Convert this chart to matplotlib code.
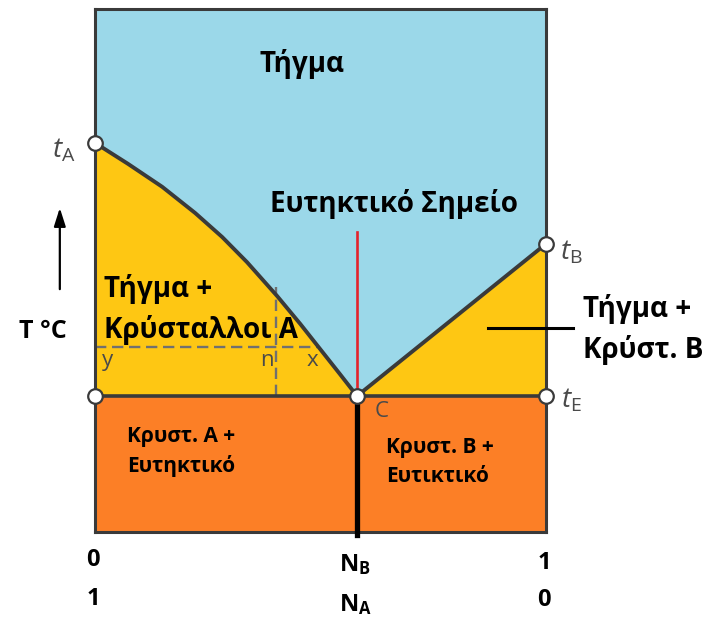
import matplotlib
matplotlib.use("Agg")
import matplotlib.pyplot as plt
from matplotlib.patches import Rectangle

plt.rcParams['font.family'] = ['Open Sans', 'DejaVu Sans']
plt.rcParams['mathtext.fontset'] = 'custom'
plt.rcParams['mathtext.rm'] = 'Open Sans'
plt.rcParams['mathtext.it'] = 'Open Sans:italic'
plt.rcParams['mathtext.bf'] = 'Open Sans:bold'

# ---- data (composition N_B 0..1, temperature in arbitrary units 0..100) ----
t_A = 74.4
t_B = 55.1
t_E = 26.0
eutectic_x = 0.581
liq_left_x = [0.0, 0.073, 0.149, 0.222, 0.282, 0.337, 0.404, 0.455, 0.499, 0.543, 0.581]
liq_left_T = [74.4, 70.4, 66.0, 61.0, 56.4, 51.6, 45.1, 39.8, 35.0, 30.2, 26.0]
liq_right_x = [0.581, 1.0]
liq_right_T = [26.0, 55.1]
lever_T = 35.4
lever_x_end = 0.492
lever_n_x = 0.401
lever_n_top = 46.8
red_top = 57.4
xtick_pos = [0.0, eutectic_x, 1.0]
xtick_top = ["0", r"$\mathbf{N_B}$", "1"]
xtick_bottom = ["1", r"$\mathbf{N_A}$", "0"]

BLUE = '#9BD8E9'
YELLOW = '#FEC713'
ORANGE = '#FC7F26'
EDGE = '#3a3a3a'

W, H = 706, 624
fig = plt.figure(figsize=(W / 100, H / 100), dpi=100)
x0, x1, ytop, ybot = 95, 546, 9, 532
ax = fig.add_axes([x0 / W, (H - ybot) / H, (x1 - x0) / W, (ybot - ytop) / H])
ax.set_xlim(0, 1)
ax.set_ylim(0, 100)
ax.set_facecolor(BLUE)
for s in ax.spines.values():
    s.set_color(EDGE)
    s.set_linewidth(2.2)
ax.set_xticks([])
ax.set_yticks([])

# regions
ax.add_patch(Rectangle((0, 0), 1, t_E, facecolor=ORANGE, edgecolor='none', zorder=1))
ax.fill_between(liq_left_x, t_E, liq_left_T, color=YELLOW, lw=0, zorder=1)
ax.fill_between(liq_right_x, t_E, liq_right_T, color=YELLOW, lw=0, zorder=1)

# lines
ax.plot(liq_left_x, liq_left_T, color=EDGE, lw=2.8, zorder=3,
        solid_capstyle='round', solid_joinstyle='round')
ax.plot(liq_right_x, liq_right_T, color=EDGE, lw=2.8, zorder=3)
ax.plot([0, 1], [t_E, t_E], color=EDGE, lw=2.6, zorder=3)
dash = (0, (4.8, 2.4))
ax.plot([0, lever_x_end], [lever_T, lever_T], color='#707070', lw=1.7, ls=dash, zorder=2)
ax.plot([lever_n_x, lever_n_x], [t_E, lever_n_top], color='#707070', lw=1.7, ls=dash, zorder=2)
ax.plot([eutectic_x, eutectic_x], [t_E, red_top], color='#e3232b', lw=1.9, zorder=4)
ax.plot([eutectic_x, eutectic_x], [t_E, -0.6], color='black', lw=3.8, zorder=4, clip_on=False)
ax.plot([0.871, 1.06], [39.0, 39.0], color='black', lw=2.2, zorder=4, clip_on=False)

# points
ax.plot([0, 1, 0, 1, eutectic_x], [t_A, t_B, t_E, t_E, t_E], 'o', ms=10.5,
        mfc='white', mec=EDGE, mew=1.6, zorder=6, clip_on=False)

# arrow for T
ax.annotate('', xy=(-0.078, 62.5), xytext=(-0.078, 45.9),
            arrowprops=dict(arrowstyle='-|>,head_width=0.35,head_length=1.1', color='black', lw=1.6),
            annotation_clip=False)

def T(xp, yp, s, **kw):
    fig.text(xp / W, 1 - yp / H, s, **kw)

bold = dict(fontweight='bold', color='black')
big = 20
T(302, 72, 'Τήγμα', ha='center', va='baseline', fontsize=big, **bold)
T(394, 212, 'Ευτηκτικό Σημείο', ha='center', va='baseline', fontsize=big, **bold)
T(104, 297, 'Τήγμα +', ha='left', va='baseline', fontsize=big, **bold)
T(104, 338, 'Κρύσταλλοι Α', ha='left', va='baseline', fontsize=big, **bold)
T(583, 317, 'Τήγμα +', ha='left', va='baseline', fontsize=big, **bold)
T(583, 358, 'Κρύστ. Β', ha='left', va='baseline', fontsize=big, **bold)
T(19, 338, 'T °C', ha='left', va='baseline', fontsize=18, **bold)
small = 15
T(127, 442, 'Κρυστ. Α +', ha='left', va='baseline', fontsize=small, **bold)
T(127, 472, 'Ευτηκτικό', ha='left', va='baseline', fontsize=small, **bold)
T(386, 453, 'Κρυστ. Β +', ha='left', va='baseline', fontsize=small, **bold)
T(386, 482, 'Ευτικτικό', ha='left', va='baseline', fontsize=small, **bold)

gray = '#4a4a4a'
T(108, 366, 'y', ha='center', va='baseline', fontsize=16, color=gray)
T(267, 366, 'n', ha='center', va='baseline', fontsize=16, color=gray)
T(312, 366, 'x', ha='center', va='baseline', fontsize=16, color=gray)
T(382, 417, 'C', ha='center', va='baseline', fontsize=16, color=gray)

T(64, 150, r'$t_{\mathrm{A}}$', ha='center', va='center', fontsize=20, color=gray)
T(571, 252, r'$t_{\mathrm{B}}$', ha='center', va='center', fontsize=20, color=gray)
T(571, 401, r'$t_{\mathrm{E}}$', ha='center', va='center', fontsize=20, color=gray)

# bottom composition labels
offs_top = [0, 5, 3]
offs_bot = [0, 6, 1]
for xp, top, bot, ot, ob in zip(xtick_pos, xtick_top, xtick_bottom, offs_top, offs_bot):
    px = x0 + xp * (x1 - x0) - 2
    T(px, 560 + ot, top, ha='center', va='center', fontsize=17, **bold)
    T(px, 599 + ob, bot, ha='center', va='center', fontsize=17, **bold)

fig.savefig('out.png', dpi=100)
